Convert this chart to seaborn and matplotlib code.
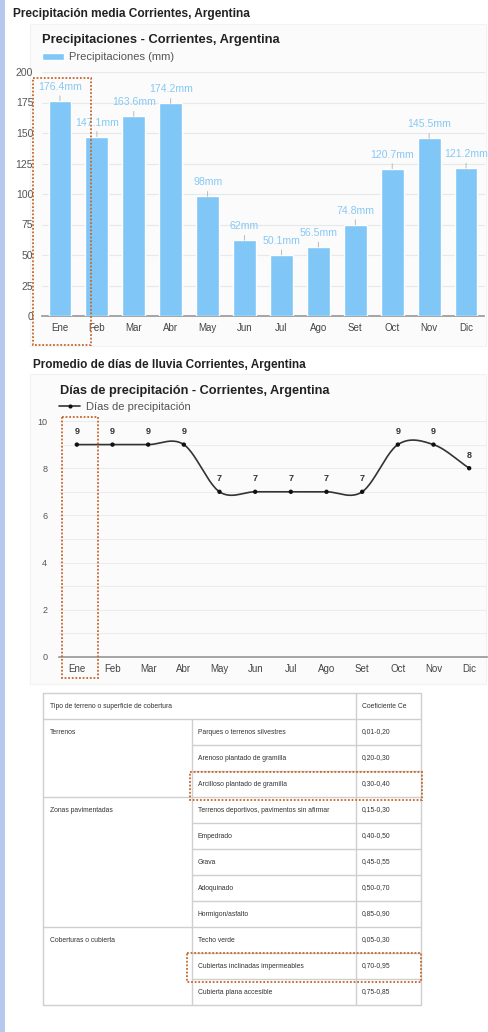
import numpy as np
import pandas as pd
import matplotlib
matplotlib.use("Agg")
import matplotlib.pyplot as plt
from matplotlib.patches import Rectangle
from matplotlib.lines import Line2D
from matplotlib import font_manager
import seaborn as sns

# ---------------- data ----------------
months = ["Ene", "Feb", "Mar", "Abr", "May", "Jun", "Jul", "Ago", "Set", "Oct", "Nov", "Dic"]
precip_mm = [176.4, 147.1, 163.6, 174.2, 98, 62, 50.1, 56.5, 74.8, 120.7, 145.5, 121.2]
precip_labels = ["176.4mm", "147.1mm", "163.6mm", "174.2mm", "98mm", "62mm", "50.1mm",
                 "56.5mm", "74.8mm", "120.7mm", "145.5mm", "121.2mm"]
rain_days = [9, 9, 9, 9, 7, 7, 7, 7, 7, 9, 9, 8]
bar_yticks = [0, 25, 50, 75, 100, 125, 150, 175, 200]
line_yticks = [0, 2, 4, 6, 8, 10]

section_title_1 = "Precipitación media Corrientes, Argentina"
chart_title_1 = "Precipitaciones - Corrientes, Argentina"
legend_1 = "Precipitaciones (mm)"
section_title_2 = "Promedio de días de lluvia Corrientes, Argentina"
chart_title_2 = "Días de precipitación - Corrientes, Argentina"
legend_2 = "Días de precipitación"

table_header = ["Tipo de terreno o superficie de cobertura", "Coeficiente Ce"]
table_groups = ["Terrenos", "Zonas pavimentadas", "Coberturas o cubierta"]
table_group_sizes = [3, 5, 3]
table_items = ["Parques o terrenos silvestres", "Arenoso plantado de gramilla",
               "Arcilloso plantado de gramilla", "Terrenos deportivos, pavimentos sin afirmar",
               "Empedrado", "Grava", "Adoquinado", "Hormigon/asfalto", "Techo verde",
               "Cubiertas inclinadas impermeables", "Cubierta plana accesible"]
table_coefs = ["0,01-0,20", "0,20-0,30", "0,30-0,40", "0,15-0,30", "0,40-0,50", "0,45-0,55",
               "0,50-0,70", "0,85-0,90", "0,05-0,30", "0,70-0,95", "0,75-0,85"]

# ---------------- style ----------------
sns.set_theme(style="white")
plt.rcParams["font.family"] = ["Liberation Sans", "DejaVu Sans"]

installed = {f.name for f in font_manager.fontManager.ttflist}
if "Liberation Sans Narrow" in installed:
    TFONT, TFS = "Liberation Sans Narrow", 5.7
else:
    TFONT, TFS = "Liberation Sans", 4.9

W, H = 488, 1032
fig = plt.figure(figsize=(W / 100, H / 100), dpi=100)
fig.patch.set_facecolor("white")


def ax_at(x0, y0, x1, y1, **kw):
    return fig.add_axes([x0 / W, 1 - y1 / H, (x1 - x0) / W, (y1 - y0) / H], **kw)


# background decorations
bg = ax_at(0, 0, W, H, zorder=-5)
bg.set_xlim(0, W); bg.set_ylim(H, 0); bg.axis("off")
bg.add_patch(Rectangle((0, 0), 5, H, color="#b6c8ee", lw=0))
bg.add_patch(Rectangle((30, 24), 456, 322, facecolor="#fbfbfb", edgecolor="#f2f2f2", lw=0.8))
bg.add_patch(Rectangle((30, 374), 456, 310, facecolor="#fbfbfb", edgecolor="#f2f2f2", lw=0.8))

BAR_C = "#80c6f6"
LBL_C = "#86c9f4"
TXT_C = "#555555"

# ---------------- bar chart ----------------
ax1 = ax_at(41.5, 72, 484.5, 316)
ax1.set_facecolor("none")
df1 = pd.DataFrame({"mes": months, "mm": precip_mm})
sns.barplot(data=df1, x="mes", y="mm", color=BAR_C, width=0.62, saturation=1,
            ax=ax1, label=legend_1, zorder=3)
ax1.set_xlim(-0.5, 11.5)
ax1.set_ylim(0, 200)
ax1.set_yticks(bar_yticks)
ax1.set_yticklabels([str(v) for v in bar_yticks])
ax1.yaxis.grid(True, color="#e8e8e8", lw=0.8, zorder=0)
ax1.set_axisbelow(True)
for s in ["top", "right", "left"]:
    ax1.spines[s].set_visible(False)
ax1.spines["bottom"].set_color("#9a9a9a")
ax1.tick_params(axis="y", length=0, labelsize=7.5, labelcolor=TXT_C, pad=6)
ax1.tick_params(axis="x", length=0, labelsize=7, labelcolor="#444444", pad=5)
ax1.set_xlabel(""); ax1.set_ylabel("")
for i, (v, lab) in enumerate(zip(precip_mm, precip_labels)):
    ax1.annotate("", xy=(i, v), xytext=(0, 5), textcoords="offset pixels",
                 arrowprops=dict(arrowstyle="-", color="#b0b0b0", lw=0.6, shrinkA=0, shrinkB=0))
    ax1.annotate(lab, xy=(i, v), xytext=(0, 14), textcoords="offset pixels",
                 ha="center", va="center", fontsize=7.6, color=LBL_C)
ax1.legend(loc="center left", bbox_to_anchor=(42 / W, 1 - 57 / H), bbox_transform=fig.transFigure,
           frameon=False, fontsize=8, handlelength=2.0, handleheight=0.6,
           handletextpad=0.4, borderpad=0, borderaxespad=0, labelcolor=TXT_C)

# ---------------- line chart ----------------
ax2 = ax_at(59, 421, 487, 657)
ax2.set_facecolor("none")
x_idx = np.arange(len(rain_days))
yv = np.array(rain_days, dtype=float)
# Catmull-Rom smoothing of the connecting line
m = np.empty_like(yv)
m[1:-1] = (yv[2:] - yv[:-2]) / 2
m[0] = yv[1] - yv[0]
m[-1] = yv[-1] - yv[-2]
t = np.linspace(0, 1, 25)
h00 = 2 * t**3 - 3 * t**2 + 1
h10 = t**3 - 2 * t**2 + t
h01 = -2 * t**3 + 3 * t**2
h11 = t**3 - t**2
xs, ys = [], []
for k in range(len(yv) - 1):
    xs.append(x_idx[k] + t)
    ys.append(h00 * yv[k] + h10 * m[k] + h01 * yv[k + 1] + h11 * m[k + 1])
smooth = pd.DataFrame({"x": np.concatenate(xs), "y": np.concatenate(ys)})
sns.lineplot(data=smooth, x="x", y="y", sort=False, color="#333333", lw=1.2, ax=ax2, zorder=3)
sns.scatterplot(x=x_idx, y=yv, color="#111111", s=10, edgecolor="none", ax=ax2, zorder=4)
for i, v in enumerate(rain_days):
    ax2.annotate(str(v), xy=(i, v), xytext=(0, 13), textcoords="offset pixels",
                 ha="center", va="center", fontsize=6.5, fontweight="bold", color="#333333")
ax2.set_xlim(-0.5, 11.5)
ax2.set_ylim(0, 10)
ax2.set_xticks(x_idx)
ax2.set_xticklabels(months)
ax2.set_yticks(line_yticks)
ax2.set_yticks(np.arange(0, 11, 1), minor=True)
ax2.yaxis.grid(True, which="both", color="#ececec", lw=0.8, zorder=0)
ax2.set_axisbelow(True)
for s in ["top", "right", "left"]:
    ax2.spines[s].set_visible(False)
ax2.spines["bottom"].set_color("#9a9a9a")
ax2.tick_params(axis="y", which="both", length=0, labelsize=6.5, labelcolor=TXT_C, pad=8.5)
ax2.tick_params(axis="x", length=0, labelsize=7, labelcolor="#444444", pad=5)
ax2.set_xlabel(""); ax2.set_ylabel("")
h2 = Line2D([], [], color="#333333", lw=1.2, marker="o", markersize=3, markerfacecolor="#111111",
            markeredgewidth=0)
ax2.legend([h2], [legend_2], loc="center left", bbox_to_anchor=(59 / W, 1 - 407 / H),
           bbox_transform=fig.transFigure, frameon=False, fontsize=8, handlelength=1.9,
           handletextpad=0.5, borderpad=0, borderaxespad=0, labelcolor=TXT_C)

# ---------------- titles ----------------
fig.text(13 / W, 1 - 14 / H, section_title_1, fontsize=8.6, fontweight="bold", color="#222222",
         va="center", ha="left")
fig.text(42 / W, 1 - 40 / H, chart_title_1, fontsize=9.3, fontweight="bold", color="#222222",
         va="center", ha="left")
fig.text(33 / W, 1 - 365 / H, section_title_2, fontsize=8.5, fontweight="bold", color="#222222",
         va="center", ha="left")
fig.text(60 / W, 1 - 391 / H, chart_title_2, fontsize=9.2, fontweight="bold", color="#222222",
         va="center", ha="left")

# ---------------- table ----------------
tx0, tx1, ty0, ty1 = 43, 421, 693, 1005
c1, c2 = 192, 356
ax3 = ax_at(tx0 - 2, ty0 - 2, tx1 + 2, ty1 + 2)
ax3.set_xlim(tx0 - 2, tx1 + 2); ax3.set_ylim(ty1 + 2, ty0 - 2); ax3.axis("off")
n_rows = len(table_items) + 1
rh = (ty1 - ty0) / n_rows
LC = "#cfcfcf"
TC = "#333333"
ax3.plot([tx0, tx1, tx1, tx0, tx0], [ty0, ty0, ty1, ty1, ty0], color=LC, lw=1)
ax3.plot([c2, c2], [ty0, ty1], color=LC, lw=1)
ax3.plot([c1, c1], [ty0 + rh, ty1], color=LC, lw=1)
ax3.plot([tx0, tx1], [ty0 + rh, ty0 + rh], color=LC, lw=1)
ax3.text(tx0 + 7, ty0 + rh / 2, table_header[0], fontsize=TFS, family=TFONT, color=TC, va="center")
ax3.text(c2 + 6, ty0 + rh / 2, table_header[1], fontsize=TFS, family=TFONT, color=TC, va="center")
r = 0
group_starts = set()
for g, n in zip(table_groups, table_group_sizes):
    y_top = ty0 + rh * (1 + r)
    group_starts.add(r)
    ax3.text(tx0 + 7, y_top + rh / 2, g, fontsize=TFS, family=TFONT, color=TC, va="center")
    r += n
for k, (item, coef) in enumerate(zip(table_items, table_coefs)):
    y_top = ty0 + rh * (1 + k)
    if k > 0:
        xl = tx0 if k in group_starts else c1
        ax3.plot([xl, tx1], [y_top, y_top], color=LC, lw=1)
    ax3.text(c1 + 6, y_top + rh / 2, item, fontsize=TFS, family=TFONT, color=TC, va="center")
    ax3.text(c2 + 6, y_top + rh / 2, coef, fontsize=TFS, family=TFONT, color=TC, va="center")

# ---------------- highlight boxes ----------------
ov = ax_at(0, 0, W, H, zorder=10)
ov.set_facecolor("none")
ov.set_xlim(0, W); ov.set_ylim(H, 0); ov.axis("off")
RED = "#c8662a"
for (x0, y0, x1, y1) in [(33, 78, 91, 345), (62, 417, 98, 678), (190, 772, 422, 800),
                         (187, 953, 421, 982)]:
    ov.add_patch(Rectangle((x0, y0), x1 - x0, y1 - y0, fill=False, edgecolor=RED,
                           lw=1.3, linestyle=(0, (1, 1))))

fig.savefig("out.png", dpi=100, facecolor="white")
